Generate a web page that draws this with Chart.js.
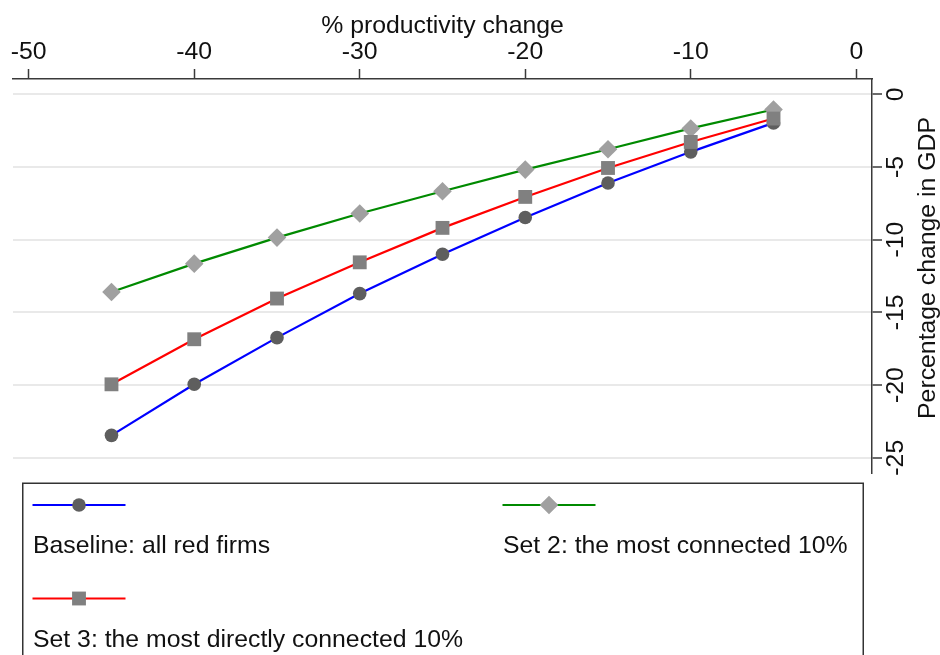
<!DOCTYPE html>
<html>
<head>
<meta charset="utf-8">
<script src="https://cdn.jsdelivr.net/npm/chart.js@4.4.1/dist/chart.umd.min.js"></script>
<style>
html, body { margin: 0; padding: 0; background: #ffffff; }
#wrap { position: relative; width: 940px; height: 655px; overflow: hidden; }
canvas { display: block; }
</style>
</head>
<body>
<div id="wrap"><canvas id="c" width="940" height="655"></canvas></div>
<script>
// ---- data ----
const productivityChange = [-45, -40, -35, -30, -25, -20, -15, -10, -5];
const baselineAllRed = [-23.46, -19.95, -16.74, -13.71, -11.0, -8.48, -6.10, -3.96, -1.97];
const set2MostConnected = [-13.60, -11.65, -9.86, -8.20, -6.67, -5.18, -3.78, -2.35, -1.05];
const set3MostDirect = [-19.95, -16.85, -14.05, -11.56, -9.19, -7.06, -5.07, -3.28, -1.67];
const seriesNames = ["Baseline: all red firms", "Set 2: the most connected 10%", "Set 3: the most directly connected 10%"];
const xTickValues = [-50, -40, -30, -20, -10, 0];
const yTickValues = [0, -5, -10, -15, -20, -25];
const xTitle = "% productivity change";
const yTitle = "Percentage change in GDP";

const FONT = "'Liberation Sans', Arial, sans-serif";
const FS = 24.8;
const AXIS = '#3a3a3a';
const TEXT = '#111111';

function pts(vals) { return productivityChange.map((x, i) => ({ x: x, y: vals[i] })); }

const legendPos = [
  { lx: 32.5, ly: 505, tx: 33, ty: 553 },
  { lx: 502.5, ly: 505, tx: 503, ty: 553 },
  { lx: 32.5, ly: 598.5, tx: 33, ty: 646.5 }
];

const overlayPlugin = {
  id: 'overlay',
  afterDraw(chart) {
    const ctx = chart.ctx;
    const ca = chart.chartArea;
    // y-axis title (reads bottom to top)
    ctx.save();
    ctx.fillStyle = TEXT;
    ctx.font = FS + 'px ' + FONT;
    ctx.textAlign = 'center';
    ctx.textBaseline = 'middle';
    ctx.translate(928, 268);
    ctx.rotate(-Math.PI / 2);
    ctx.fillText(yTitle, 0, 0);
    ctx.restore();

    // legend box
    ctx.save();
    ctx.strokeStyle = '#333333';
    ctx.lineWidth = 1.5;
    ctx.strokeRect(22.75, 483.25, 840.5, 200);
    chart.data.datasets.forEach((ds, i) => {
      const p = legendPos[i];
      ctx.strokeStyle = ds.borderColor;
      ctx.lineWidth = ds.borderWidth;
      ctx.beginPath();
      ctx.moveTo(p.lx, p.ly);
      ctx.lineTo(p.lx + 93, p.ly);
      ctx.stroke();
      ctx.fillStyle = ds.pointBackgroundColor;
      ctx.strokeStyle = ds.pointBackgroundColor;
      const opts = { pointStyle: ds.pointStyle, radius: ds.pointRadius, rotation: 0, borderWidth: 0 };
      if (Chart.helpers && Chart.helpers.drawPoint) {
        Chart.helpers.drawPoint(ctx, opts, p.lx + 46.5, p.ly);
      }
      ctx.fillStyle = TEXT;
      ctx.font = FS + 'px ' + FONT;
      ctx.textAlign = 'left';
      ctx.textBaseline = 'alphabetic';
      ctx.fillText(seriesNames[i], p.tx, p.ty);
    });
    ctx.restore();
  }
};

new Chart(document.getElementById('c'), {
  type: 'line',
  data: {
    datasets: [
      {
        label: seriesNames[0], data: pts(baselineAllRed), order: 2,
        borderColor: '#0000ff', borderWidth: 2.2,
        pointStyle: 'circle', pointRadius: 6.8,
        pointBackgroundColor: '#5e5e5e', pointBorderColor: '#5e5e5e', pointBorderWidth: 0
      },
      {
        label: seriesNames[1], data: pts(set2MostConnected), order: 1,
        borderColor: '#008a00', borderWidth: 2.2,
        pointStyle: 'rectRot', pointRadius: 9.3,
        pointBackgroundColor: '#a0a0a0', pointBorderColor: '#a0a0a0', pointBorderWidth: 0
      },
      {
        label: seriesNames[2], data: pts(set3MostDirect), order: 0,
        borderColor: '#ff0000', borderWidth: 2.2,
        pointStyle: 'rect', pointRadius: 9.8,
        pointBackgroundColor: '#808080', pointBorderColor: '#808080', pointBorderWidth: 0
      }
    ]
  },
  options: {
    responsive: false,
    devicePixelRatio: 1,
    animation: false,
    events: [],
    layout: { padding: { left: 13, right: 0, top: 0, bottom: 182 } },
    plugins: { legend: { display: false }, tooltip: { enabled: false }, title: { display: false } },
    elements: { line: { tension: 0 } },
    scales: {
      x: {
        type: 'linear', position: 'top', min: -50.95, max: 0.95,
        afterBuildTicks(s) { s.ticks = xTickValues.map(v => ({ value: v })); },
        afterFit(s) { s.height = 79; },
        grid: { display: true, drawOnChartArea: false, drawTicks: true, tickLength: 10, tickColor: AXIS, tickWidth: 1.5 },
        border: { display: true, color: AXIS, width: 1.5 },
        ticks: { color: TEXT, font: { family: FONT, size: FS }, padding: 2, maxRotation: 0, minRotation: 0 },
        title: { display: true, text: xTitle, color: TEXT, font: { family: FONT, size: FS }, padding: { top: 11, bottom: 0 } }
      },
      y: {
        type: 'linear', position: 'right', min: -26.05, max: 1.05,
        afterBuildTicks(s) { s.ticks = yTickValues.map(v => ({ value: v })); },
        afterFit(s) { s.width = 68; },
        grid: { display: true, drawOnChartArea: true, color: '#e9e9e9', lineWidth: 2, drawTicks: true, tickLength: 10, tickColor: AXIS, tickWidth: 1.5 },
        border: { display: true, color: AXIS, width: 1.5 },
        ticks: { color: TEXT, font: { family: FONT, size: FS }, padding: -4, minRotation: 90, maxRotation: 90, crossAlign: 'center' },
        title: { display: false }
      }
    }
  },
  plugins: [overlayPlugin]
});
</script>
</body>
</html>
